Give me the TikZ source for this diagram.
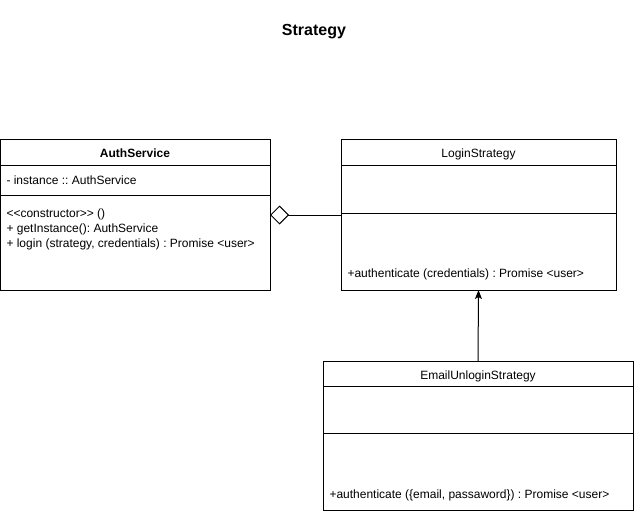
\documentclass[tikz,border=0pt]{standalone}
\usepackage{fontspec}
\setmainfont{Liberation Sans}
\usetikzlibrary{arrows.meta}
\frenchspacing
\begin{document}
\begin{tikzpicture}[x=1pt,y=-1pt,line width=1pt,
  cls/.style={draw,rectangle,anchor=north west,inner sep=0pt,outer sep=0pt},
  ttl/.style={font=\fontsize{12}{14}\selectfont,anchor=base,inner sep=0pt},
  txt/.style={font=\fontsize{12}{14}\selectfont,anchor=base west,inner sep=0pt},
  diam/.style={{Diamond[open,length=19pt,width=19pt,line width=1pt]}-},
  inh/.style={-{Stealth[length=9pt,width=7pt,inset=2pt]}}]
\useasboundingbox (0,0) rectangle (634,513);
% title
\node[font=\fontsize{16}{18}\selectfont\bfseries,inner sep=0pt,anchor=base] (title) at (314,36) {Strategy};
% AuthService
\node[cls,minimum width=269.5pt,minimum height=150pt] (auth) at (0.5,140) {};
\draw (0.5,166) -- (270,166);
\draw (0.5,196) -- (270,196);
\node[ttl,font=\fontsize{12}{14}\selectfont\bfseries] (authT) at (135,158) {AuthService};
\node[txt] (authA) at (6,185) {- instance :: AuthService};
\node[txt] (authM1) at (6,217) {{<}{<}constructor{>}{>} ()};
\node[txt] (authM2) at (6,232) {+ getInstance(): AuthService};
\node[txt] (authM3) at (6,247) {+ login (strategy, credentials) : Promise <user>};
% LoginStrategy
\node[cls,minimum width=275pt,minimum height=150pt] (login) at (341,140) {};
\draw (341,166) -- (616,166);
\draw (341,213) -- (616,213);
\node[ttl] (loginT) at (478.5,158) {LoginStrategy};
\node[txt] (loginM) at (347,277) {+authenticate (credentials) : Promise <user>};
% EmailUnloginStrategy
\node[cls,minimum width=310pt,minimum height=149.5pt] (email) at (323,361) {};
\draw (323,386) -- (633,386);
\draw (323,433) -- (633,433);
\node[ttl] (emailT) at (478,379) {EmailUnloginStrategy};
\node[txt] (emailM) at (329,498) {+authenticate (\{email, passaword\}) : Promise <user>};
% connectors
\draw[diam] (auth.east) -- (login.west);
\draw[inh] (email.north) -- (login.south);
\end{tikzpicture}
\end{document}
